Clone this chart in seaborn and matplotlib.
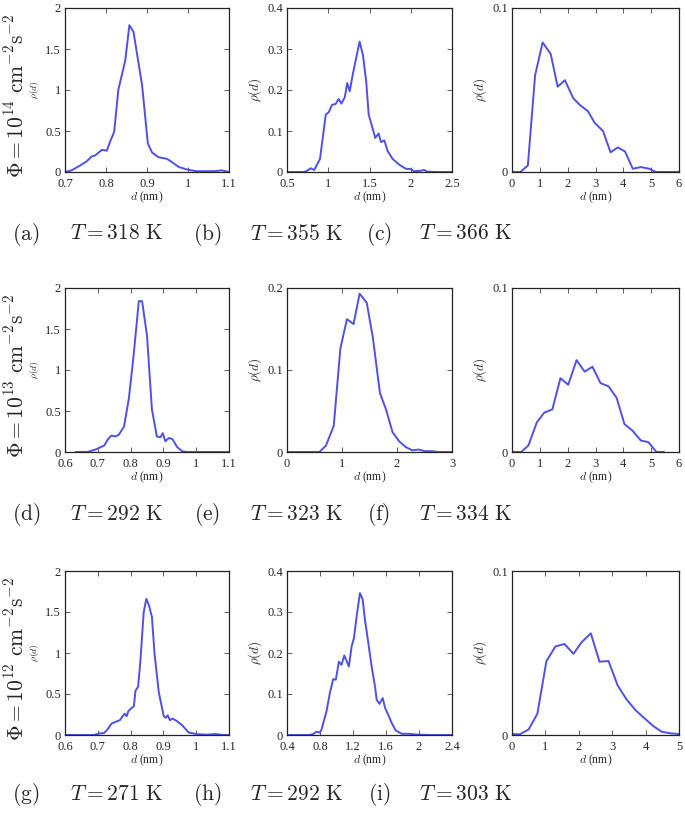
import matplotlib
matplotlib.use("Agg")
import matplotlib.pyplot as plt
import seaborn as sns

# ---- data ----
# row 1: Phi = 1e14
d_a = [0.70, 0.716, 0.737, 0.753, 0.765, 0.773, 0.79, 0.802, 0.81, 0.82, 0.83, 0.847, 0.857, 0.867,
       0.888, 0.902, 0.912, 0.928, 0.949, 0.961, 0.978, 0.998, 1.02, 1.063, 1.083, 1.10]
rho_a = [0.0, 0.02, 0.08, 0.13, 0.19, 0.20, 0.27, 0.26, 0.37, 0.49, 1.0, 1.36, 1.79, 1.71,
         1.06, 0.35, 0.24, 0.18, 0.16, 0.12, 0.06, 0.03, 0.01, 0.01, 0.02, 0.0]

d_b = [0.5, 0.695, 0.735, 0.788, 0.83, 0.9, 0.97, 1.007, 1.047, 1.09, 1.125, 1.16, 1.2, 1.23, 1.26,
       1.3, 1.38, 1.42, 1.46, 1.49, 1.53, 1.57, 1.61, 1.64, 1.68, 1.72, 1.78, 1.86, 1.94, 2.0, 2.04,
       2.12, 2.16, 2.2, 2.3, 2.5]
rho_b = [0.0, 0.0, 0.002, 0.009, 0.005, 0.032, 0.14, 0.146, 0.164, 0.166, 0.178, 0.167, 0.182, 0.217,
         0.197, 0.241, 0.318, 0.286, 0.221, 0.14, 0.112, 0.083, 0.094, 0.073, 0.077, 0.051, 0.032,
         0.018, 0.008, 0.007, 0.002, 0.003, 0.005, 0.001, 0.0, 0.0]

d_c = [0.0, 0.3, 0.57, 0.83, 1.1, 1.39, 1.64, 1.9, 2.2, 2.43, 2.73, 2.97, 3.27, 3.54, 3.8, 4.06,
       4.34, 4.63, 4.93, 5.17, 6.0]
rho_c = [0.0, 0.0, 0.004, 0.059, 0.079, 0.072, 0.052, 0.056, 0.045, 0.041, 0.037, 0.030, 0.025,
         0.012, 0.015, 0.0125, 0.002, 0.003, 0.002, 0.0, 0.0]

# row 2: Phi = 1e13
d_d = [0.632, 0.668, 0.693, 0.709, 0.72, 0.73, 0.741, 0.754, 0.764, 0.78, 0.795, 0.81, 0.825, 0.835,
       0.85, 0.865, 0.88, 0.891, 0.898, 0.906, 0.916, 0.927, 0.942, 0.957, 0.972, 1.1]
rho_d = [0.0, 0.0, 0.03, 0.06, 0.08, 0.15, 0.20, 0.19, 0.21, 0.31, 0.66, 1.21, 1.84, 1.84,
         1.42, 0.52, 0.19, 0.18, 0.23, 0.13, 0.17, 0.16, 0.06, 0.01, 0.0, 0.0]

d_e = [0.0, 0.59, 0.71, 0.85, 0.97, 1.09, 1.21, 1.32, 1.45, 1.56, 1.69, 1.8, 1.92, 2.04, 2.16,
       2.28, 2.39, 2.51, 2.64, 2.76, 3.0]
rho_e = [0.0, 0.0, 0.008, 0.032, 0.126, 0.162, 0.156, 0.193, 0.182, 0.14, 0.072, 0.052, 0.024,
         0.013, 0.006, 0.002, 0.003, 0.001, 0.001, 0.0, 0.0]

d_f = [0.0, 0.33, 0.59, 0.89, 1.16, 1.45, 1.74, 2.02, 2.32, 2.61, 2.89, 3.18, 3.47, 3.76, 4.04,
       4.33, 4.63, 4.9, 5.19, 5.46]
rho_f = [0.0, 0.0, 0.004, 0.018, 0.024, 0.026, 0.045, 0.041, 0.056, 0.049, 0.052, 0.042, 0.040,
         0.033, 0.017, 0.013, 0.007, 0.006, 0.0, 0.0]

# row 3: Phi = 1e12
d_g = [0.6, 0.688, 0.701, 0.719, 0.729, 0.742, 0.754, 0.767, 0.776, 0.782, 0.788, 0.793, 0.803,
       0.81, 0.815, 0.823, 0.83, 0.84, 0.848, 0.856, 0.865, 0.873, 0.886, 0.901, 0.907, 0.913,
       0.92, 0.928, 0.941, 0.957, 0.977, 1.003, 1.033, 1.058, 1.084, 1.1]
rho_g = [0.0, 0.0, 0.016, 0.024, 0.065, 0.14, 0.16, 0.18, 0.23, 0.26, 0.23, 0.29, 0.33,
         0.35, 0.54, 0.59, 0.91, 1.50, 1.66, 1.58, 1.44, 0.99, 0.52, 0.23, 0.21, 0.24,
         0.18, 0.20, 0.17, 0.12, 0.03, 0.01, 0.004, 0.012, 0.0, 0.0]

d_h = [0.4, 0.668, 0.716, 0.757, 0.798, 0.818, 0.879, 0.919, 0.96, 0.992, 1.029, 1.061, 1.094,
       1.122, 1.15, 1.183, 1.211, 1.244, 1.284, 1.317, 1.345, 1.386, 1.426, 1.467, 1.487, 1.52,
       1.56, 1.589, 1.63, 1.67, 1.718, 1.79, 1.87, 1.97, 2.14, 2.4]
rho_h = [0.0, 0.0, 0.002, 0.008, 0.006, 0.013, 0.058, 0.102, 0.136, 0.135, 0.179, 0.171, 0.194,
         0.181, 0.167, 0.216, 0.236, 0.289, 0.346, 0.331, 0.281, 0.224, 0.167, 0.118, 0.086, 0.076,
         0.09, 0.066, 0.048, 0.029, 0.011, 0.003, 0.003, 0.001, 0.0, 0.0]

d_i = [0.0, 0.23, 0.5, 0.76, 1.03, 1.3, 1.57, 1.84, 2.09, 2.36, 2.62, 2.89, 3.16, 3.42, 3.69,
       3.95, 4.22, 4.48, 4.75, 5.0]
rho_i = [0.0006, 0.0004, 0.0034, 0.013, 0.045, 0.054, 0.0555, 0.0495, 0.0567, 0.062, 0.0447,
         0.0451, 0.0304, 0.022, 0.0153, 0.0105, 0.0056, 0.002, 0.001, 0.0006]

panel_tags = ["(a)", "(b)", "(c)", "(d)", "(e)", "(f)", "(g)", "(h)", "(i)"]
temps = [318, 355, 366, 292, 323, 334, 271, 292, 303]
flux_exp = [14, 13, 12]

xticks = [[0.7, 0.8, 0.9, 1, 1.1], [0.5, 1, 1.5, 2, 2.5], [0, 1, 2, 3, 4, 5, 6],
          [0.6, 0.7, 0.8, 0.9, 1, 1.1], [0, 1, 2, 3], [0, 1, 2, 3, 4, 5, 6],
          [0.6, 0.7, 0.8, 0.9, 1, 1.1], [0.4, 0.8, 1.2, 1.6, 2, 2.4], [0, 1, 2, 3, 4, 5]]
yticks = [[0, 0.5, 1, 1.5, 2], [0, 0.1, 0.2, 0.3, 0.4], [0, 0.1],
          [0, 0.5, 1, 1.5, 2], [0, 0.1, 0.2], [0, 0.1],
          [0, 0.5, 1, 1.5, 2], [0, 0.1, 0.2, 0.3, 0.4], [0, 0.1]]

curves = [(d_a, rho_a), (d_b, rho_b), (d_c, rho_c), (d_d, rho_d), (d_e, rho_e),
          (d_f, rho_f), (d_g, rho_g), (d_h, rho_h), (d_i, rho_i)]

sns.set_style("ticks")
plt.rcParams["font.family"] = ["Liberation Serif", "DejaVu Serif"]
plt.rcParams["mathtext.fontset"] = "cm"

fig = plt.figure(figsize=(6.85, 8.14), dpi=100)

W, H = 685.0, 814.0
col_px = [(65, 229), (287, 452), (512, 679)]
row_px = [(8, 172), (288, 452), (571, 735)]
caption_y = [235, 515, 795]


def fmt(v):
    return f"{v:g}"


line_color = "#5050e8"

for k, (d, rho) in enumerate(curves):
    r, c = divmod(k, 3)
    x0, x1 = col_px[c]
    y0, y1 = row_px[r]
    ax = fig.add_axes([x0 / W, 1 - y1 / H, (x1 - x0) / W, (y1 - y0) / H])
    sns.lineplot(x=d, y=rho, ax=ax, color=line_color, linewidth=1.4)
    xt, yt = xticks[k], yticks[k]
    ax.set_xlim(xt[0], xt[-1])
    ax.set_ylim(yt[0], yt[-1])
    ax.set_xticks(xt)
    ax.set_yticks(yt)
    ax.set_xticklabels([fmt(v) for v in xt])
    ax.set_yticklabels([fmt(v) for v in yt])
    ax.tick_params(direction="in", top=True, right=True, length=3.5, width=0.6,
                   labelsize=9, color="#444444")
    ax.tick_params(axis="x", pad=4)
    ax.tick_params(axis="y", pad=3)
    for s in ax.spines.values():
        s.set_linewidth(0.9)
        s.set_color("#222222")
    ax.set_xlabel("$d$ (nm)", fontsize=8.5, labelpad=0)
    if c == 0:
        ax.set_ylabel(r"$\rho(d)$", fontsize=7, labelpad=3)
    else:
        ax.set_ylabel(r"$\rho(d)$", fontsize=9.5, labelpad=2)

    # captions below each panel
    cx = [26, 207, 379][c]
    tx = [117, 297, 466][c]
    fig.text(cx / W, 1 - caption_y[r] / H, r"$\mathrm{" + panel_tags[k] + "}$",
             fontsize=15.5, ha="center", va="center")
    fig.text(tx / W, 1 - caption_y[r] / H, r"$T = %d\ \mathrm{K}$" % temps[k],
             fontsize=15.5, ha="center", va="center")

for r in range(3):
    yc = (row_px[r][0] + row_px[r][1]) / 2 + 6
    fig.text(17 / W, 1 - yc / H,
             r"$\Phi = 10^{%d}\ \mathrm{cm}^{-2}\mathrm{s}^{-2}$" % flux_exp[r],
             fontsize=15.5, rotation=90, ha="center", va="center")

fig.savefig("out.png", dpi=100)
